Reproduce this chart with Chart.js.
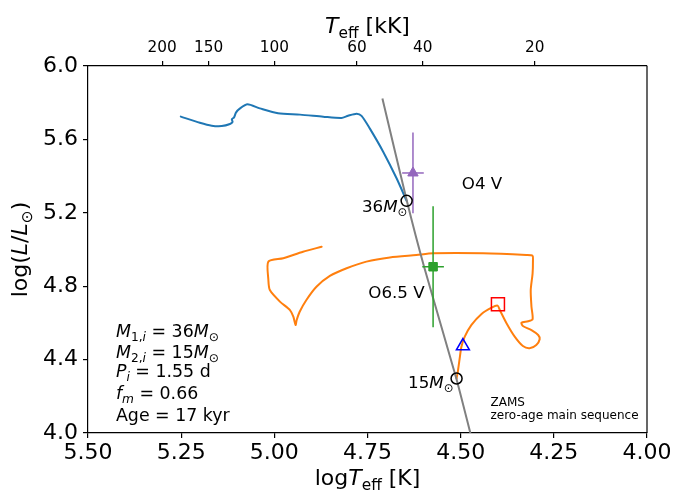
<!DOCTYPE html>
<html>
<head>
<meta charset="utf-8">
<script src="https://cdn.jsdelivr.net/npm/chart.js@4/dist/chart.umd.min.js"></script>
<style>
html,body{margin:0;padding:0;background:#fff;}
#wrap{width:675px;height:493px;position:relative;}
</style>
</head>
<body>
<div id="wrap"><canvas id="c" width="675" height="493"></canvas></div>
<script>
// ---- Data ----
const primaryLogT = [5.251,5.200,5.168,5.141,5.119,5.112,5.114,5.108,5.103,5.092,5.072,5.039,4.990,4.931,4.869,4.820,4.802,4.779,4.766,4.744,4.708,4.672,4.645];
const primaryLogL = [5.724,5.691,5.675,5.673,5.684,5.695,5.710,5.720,5.746,5.769,5.791,5.769,5.742,5.735,5.724,5.717,5.729,5.740,5.728,5.660,5.533,5.388,5.265];

const secondaryLogT = [4.511,4.507,4.502,4.498,4.489,4.471,4.444,4.417,4.401,4.395,4.377,4.355,4.333,4.315,4.297,4.288,4.292,4.310,4.333,4.337,4.319,4.307,4.310,4.312,4.307,4.306,4.307,4.324,4.440,4.574,4.619,4.690,4.753,4.806,4.851,4.887,4.914,4.932,4.940,4.943,4.949,4.958,4.985,5.012,5.016,5.016,4.976,4.923,4.873];
const secondaryLogL = [4.297,4.343,4.416,4.470,4.525,4.589,4.649,4.683,4.694,4.670,4.598,4.525,4.474,4.462,4.480,4.511,4.534,4.561,4.583,4.601,4.609,4.620,4.688,4.779,4.870,4.943,4.966,4.970,4.979,4.979,4.970,4.957,4.934,4.898,4.856,4.797,4.725,4.661,4.616,4.589,4.634,4.670,4.716,4.779,4.834,4.934,4.952,4.988,5.015];

const zamsLogT = [4.710,4.645,4.598,4.512,4.474];
const zamsLogL = [5.823,5.270,4.905,4.300,4.000];

const initialLabels = ['36M', '15M'];
const initialLogT = [4.645, 4.511];
const initialLogL = [5.265, 4.297];

const triangleLogT = [4.494];
const triangleLogL = [4.474];
const squareLogT = [4.400];
const squareLogL = [4.701];

const obsNames = ['O4 V', 'O6.5 V'];
const obsLogT = [4.628, 4.574];
const obsLogL = [5.417, 4.906];
const obsErrT = [0.029, 0.029];
const obsErrL = [0.22, 0.33];

const xTicks = [5.50, 5.25, 5.00, 4.75, 4.50, 4.25, 4.00];
const yTicks = [4.0, 4.4, 4.8, 5.2, 5.6, 6.0];
const topTicksKK = [200, 150, 100, 60, 40, 20];

const FONT = '"DejaVu Sans", sans-serif';

function pts(xs, ys){ return xs.map((x,i)=>({x:x, y:ys[i]})); }

// ---- datasets ----
const datasets = [];
datasets.push({label:'initial', data:pts(initialLogT, initialLogL), showLine:false,
  pointStyle:'circle', pointRadius:5.5, pointBackgroundColor:'rgba(0,0,0,0)', pointBorderColor:'#000', pointBorderWidth:1.5, order:0});
datasets.push({label:'tri', data:pts(triangleLogT, triangleLogL), showLine:false,
  pointStyle:'triangle', pointRadius:7.5, pointBackgroundColor:'rgba(0,0,0,0)', pointBorderColor:'#0000ff', pointBorderWidth:1.5, order:0});
datasets.push({label:'sq', data:pts(squareLogT, squareLogL), showLine:false,
  pointStyle:'rect', pointRadius:9.2, pointBackgroundColor:'rgba(0,0,0,0)', pointBorderColor:'#ff0000', pointBorderWidth:1.5, order:0});
const obsColors = ['#9467bd', '#2ca02c'];
const obsStyles = ['triangle', 'rect'];
const obsRadius = [6, 6];
obsNames.forEach((n,i)=>{
  datasets.push({label:n, data:[{x:obsLogT[i], y:obsLogL[i]}], showLine:false,
    pointStyle:obsStyles[i], pointRadius:obsRadius[i], pointBackgroundColor:obsColors[i], pointBorderColor:obsColors[i], pointBorderWidth:1, order:1});
  datasets.push({label:n+' errL', data:[{x:obsLogT[i], y:obsLogL[i]-obsErrL[i]},{x:obsLogT[i], y:obsLogL[i]+obsErrL[i]}],
    showLine:true, borderColor:obsColors[i], borderWidth:1.5, pointRadius:0, order:2});
  datasets.push({label:n+' errT', data:[{x:obsLogT[i]-obsErrT[i], y:obsLogL[i]},{x:obsLogT[i]+obsErrT[i], y:obsLogL[i]}],
    showLine:true, borderColor:obsColors[i], borderWidth:1.5, pointRadius:0, order:2});
});
datasets.push({label:'ZAMS', data:pts(zamsLogT, zamsLogL), showLine:true, borderColor:'#808080', borderWidth:2, pointRadius:0, tension:0.2, order:3});
datasets.push({label:'secondary', data:pts(secondaryLogT, secondaryLogL), showLine:true, borderColor:'#ff7f0e', borderWidth:2, pointRadius:0, tension:0.25, order:4, borderJoinStyle:'round', borderCapStyle:'round'});
datasets.push({label:'primary', data:pts(primaryLogT, primaryLogL), showLine:true, borderColor:'#1f77b4', borderWidth:2, pointRadius:0, tension:0.25, order:4, borderJoinStyle:'round', borderCapStyle:'round'});

// ---- rich text helper ----
function drawRich(ctx, segs, x, y, size, align){
  let total = 0;
  const items = segs.map(s=>{
    const fs = s.sub ? size*0.7 : size;
    const font = (s.it ? 'italic ' : '') + fs + 'px ' + FONT;
    ctx.font = font;
    const w = ctx.measureText(s.t).width;
    total += w;
    return {s:s, font:font, w:w, dy: s.sub ? size*0.24 : 0};
  });
  let cx = align==='center' ? x-total/2 : (align==='right' ? x-total : x);
  ctx.textAlign = 'left';
  ctx.textBaseline = 'alphabetic';
  items.forEach(it=>{ ctx.font = it.font; ctx.fillText(it.s.t, cx, y+it.dy); cx += it.w; });
}

const annotations = [
  {x:4.765, y:5.204, size:16.7, segs:[{t:'36'},{t:'M',it:1},{t:'\u2299',sub:1}]},
  {x:4.497, y:5.330, size:16.7, segs:[{t:'O4 V'}]},
  {x:4.748, y:4.736, size:16.7, segs:[{t:'O6.5 V'}]},
  {x:4.641, y:4.244, size:16.7, segs:[{t:'15'},{t:'M',it:1},{t:'\u2299',sub:1}]},
  {x:4.420, y:4.147, size:12, segs:[{t:'ZAMS'}]},
  {x:4.420, y:4.076, size:12, segs:[{t:'zero-age main sequence'}]},
  {x:5.425, y:4.525, size:17.4, segs:[{t:'M',it:1},{t:'1,',sub:1},{t:'i',it:1,sub:1},{t:' = 36'},{t:'M',it:1},{t:'\u2299',sub:1}]},
  {x:5.425, y:4.407, size:17.4, segs:[{t:'M',it:1},{t:'2,',sub:1},{t:'i',it:1,sub:1},{t:' = 15'},{t:'M',it:1},{t:'\u2299',sub:1}]},
  {x:5.425, y:4.304, size:17.4, segs:[{t:'P',it:1},{t:'i',it:1,sub:1},{t:' = 1.55 d'}]},
  {x:5.425, y:4.185, size:17.4, segs:[{t:'f',it:1},{t:'m',it:1,sub:1},{t:' = 0.66'}]},
  {x:5.425, y:4.067, size:17.4, segs:[{t:'Age = 17 kyr'}]}
];

const textPlugin = {
  id:'texts',
  afterDraw(chart){
    const ctx = chart.ctx, a = chart.chartArea;
    const xs = chart.scales.x, ys = chart.scales.y;
    ctx.save();
    ctx.strokeStyle = '#000'; ctx.lineWidth = 1.2;
    ctx.beginPath(); ctx.moveTo(a.right, a.top); ctx.lineTo(a.right, a.bottom); ctx.stroke();
    ctx.fillStyle = '#000';
    annotations.forEach(an=>{
      drawRich(ctx, an.segs, xs.getPixelForValue(an.x), ys.getPixelForValue(an.y), an.size, 'left');
    });
    const cx = (a.left+a.right)/2;
    drawRich(ctx, [{t:'log'},{t:'T',it:1},{t:'eff',sub:1},{t:' [K]'}], cx, 485, 22, 'center');
    drawRich(ctx, [{t:'T',it:1},{t:'eff',sub:1},{t:' [kK]'}], cx, 33, 22, 'center');
    ctx.translate(27, (a.top+a.bottom)/2);
    ctx.rotate(-Math.PI/2);
    drawRich(ctx, [{t:'log('},{t:'L',it:1},{t:'/'},{t:'L',it:1},{t:'\u2299',sub:1},{t:')'}], 0, 0, 22, 'center');
    ctx.restore();
  }
};

const gridOpts = {drawOnChartArea:false, drawTicks:true, tickLength:5, color:'#000', lineWidth:1.2};
const borderOpts = {display:true, color:'#000', width:1.2};

new Chart(document.getElementById('c'), {
  type:'scatter',
  data:{datasets:datasets},
  options:{
    responsive:false, animation:false, devicePixelRatio:1,
    layout:{padding:{left:0, right:28, top:0, bottom:0}},
    plugins:{legend:{display:false}, tooltip:{enabled:false}},
    scales:{
      x:{type:'linear', position:'bottom', min:4.0, max:5.5, reverse:true,
        afterBuildTicks(s){ s.ticks = xTicks.map(v=>({value:v})); },
        afterFit(s){ s.height = 60; },
        ticks:{color:'#000', font:{family:FONT, size:22}, padding:2, maxRotation:0, autoSkip:false,
          callback:(v)=>Number(v).toFixed(2)},
        grid:gridOpts, border:borderOpts},
      x2:{type:'linear', position:'top', min:4.0, max:5.5, reverse:true,
        afterBuildTicks(s){ s.ticks = topTicksKK.map(t=>({value:Math.log10(t*1000)})); },
        afterFit(s){ s.height = 66; },
        ticks:{color:'#000', font:{family:FONT, size:15.3}, padding:4, maxRotation:0, autoSkip:false,
          callback:(v)=>String(Math.round(Math.pow(10, v)/1000))},
        grid:gridOpts, border:borderOpts},
      y:{type:'linear', position:'left', min:4.0, max:6.0,
        afterBuildTicks(s){ s.ticks = yTicks.map(v=>({value:v})); },
        afterFit(s){ s.width = 88; },
        ticks:{color:'#000', font:{family:FONT, size:22}, padding:5,
          callback:(v)=>Number(v).toFixed(1)},
        grid:gridOpts, border:borderOpts}
    }
  },
  plugins:[textPlugin]
});
</script>
</body>
</html>
